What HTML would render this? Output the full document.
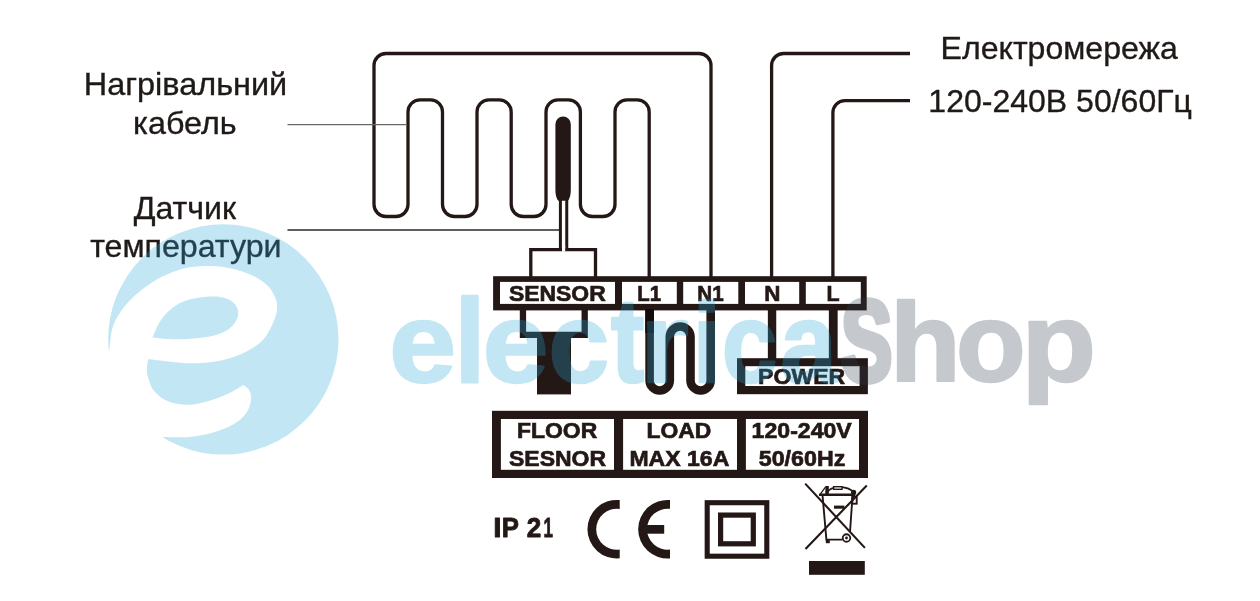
<!DOCTYPE html>
<html lang="uk"><head><meta charset="utf-8"><title>Схема підключення терморегулятора</title>
<style>
html,body{margin:0;padding:0;background:#fff;}
body{width:1260px;height:601px;overflow:hidden;}
svg{display:block;will-change:transform;}
.lbl{font-family:"Liberation Sans",sans-serif;fill:#1f1a17;}
.b{font-family:"Liberation Sans",sans-serif;font-weight:700;fill:#231815;}
.wm{font-family:"Liberation Sans",sans-serif;font-weight:700;}
</style></head><body>
<svg width="1260" height="601" viewBox="0 0 1260 601">
<rect width="1260" height="601" fill="#fff"/>
<path d="M649.2,278 V111.9 A12.0,12.0 0 0 0 637.2,99.9 H627.0 A12.0,12.0 0 0 0 615.0,111.9 V204.5 A12.0,12.0 0 0 1 603.0,216.5 H592.4 A12.0,12.0 0 0 1 580.4,204.5 V111.9 A12.0,12.0 0 0 0 568.4,99.9 H558.0 A12.0,12.0 0 0 0 546.0,111.9 V204.5 A12.0,12.0 0 0 1 534.0,216.5 H523.2 A12.0,12.0 0 0 1 511.2,204.5 V111.9 A12.0,12.0 0 0 0 499.2,99.9 H489.0 A12.0,12.0 0 0 0 477.0,111.9 V204.5 A12.0,12.0 0 0 1 465.0,216.5 H454.5 A12.0,12.0 0 0 1 442.5,204.5 V111.9 A12.0,12.0 0 0 0 430.5,99.9 H420.0 A12.0,12.0 0 0 0 408.0,111.9 V204.5 A12.0,12.0 0 0 1 396.0,216.5 H386.0 A12.0,12.0 0 0 1 374.0,204.5 V65.5 A12.0,12.0 0 0 1 386.0,53.5 H699.0 A12.0,12.0 0 0 1 711.0,65.5 V278" fill="none" stroke="#231815" stroke-width="3.3" stroke-linejoin="round"/>
<path d="M910,53.5 H783.6 A12,12 0 0 0 771.6,65.5 V278" fill="none" stroke="#231815" stroke-width="3.3"/>
<path d="M910,100.6 H844.9 A12,12 0 0 0 832.9,112.6 V278" fill="none" stroke="#231815" stroke-width="3.3"/>
<path d="M287.5,124.6 H406.5" stroke="#6b6765" stroke-width="1.1"/>
<path d="M287.5,229.9 H559.5" stroke="#2e2825" stroke-width="1.5"/>
<path d="M555.4,124.3 a7.7,7.7 0 0 1 15.4,0 V190 q0,7.5 -2.9,10.8 h-9.6 q-2.9,-3.3 -2.9,-10.8 Z" fill="#231815"/>
<path d="M560.4,198 V250 M566.75,198 V250" stroke="#231815" stroke-width="3.0" fill="none"/>
<path d="M530.8,278 V249.7 H595.5 V278" fill="none" stroke="#231815" stroke-width="3.3"/>
<rect x="562.0" y="246" width="3.2" height="5.6" fill="#fff"/>
<rect x="493.1" y="276.2" width="373.6" height="34.2" fill="#231815"/>
<rect x="500.0" y="281.9" width="115.0" height="22.0" fill="#fff"/>
<rect x="622.0" y="281.9" width="54.8" height="22.0" fill="#fff"/>
<rect x="683.2" y="281.9" width="55.1" height="22.0" fill="#fff"/>
<rect x="745.0" y="281.9" width="54.2" height="22.0" fill="#fff"/>
<rect x="805.8" y="281.9" width="55.0" height="22.0" fill="#fff"/>
<path d="M522.95,309 V334.95 H584.7 V309" fill="none" stroke="#231815" stroke-width="6.3"/>
<rect x="537" y="332" width="34" height="62.4" fill="#231815"/>
<path d="M649.6,309 V380.4 a10.1,10.1 0 0 0 20.2,0 V336.85 a10.35,10.35 0 0 1 20.7,0 V380.4 a10.1,10.1 0 0 0 20.2,0 V309" fill="none" stroke="#231815" stroke-width="8.6"/>
<rect x="645.3" y="309" width="8.6" height="24" fill="#120d0c"/>
<path d="M772.05,309 V360" stroke="#231815" stroke-width="8.4" fill="none"/>
<path d="M833.25,309 V360" stroke="#231815" stroke-width="8.8" fill="none"/>
<rect x="737" y="358.2" width="130.9" height="36" fill="#231815"/>
<rect x="745.3" y="366.2" width="114.3" height="19.8" fill="#fff"/>
<rect x="492" y="410.8" width="376" height="67.2" fill="#231815"/>
<rect x="500.9" y="419.0" width="113.1" height="50.8" fill="#fff"/>
<rect x="623.1" y="419.0" width="113.9" height="50.8" fill="#fff"/>
<rect x="745.9" y="419.0" width="113.1" height="50.8" fill="#fff"/>
<text class="b" x="509.00" y="300.65" font-size="22.9" textLength="96.72" lengthAdjust="spacingAndGlyphs" stroke="#231815" stroke-width="0.7">SENSOR</text>
<text class="b" x="637.32" y="300.65" font-size="22.9" textLength="23.77" lengthAdjust="spacingAndGlyphs" stroke="#231815" stroke-width="0.7">L1</text>
<text class="b" x="697.30" y="300.65" font-size="22.9" textLength="26.34" lengthAdjust="spacingAndGlyphs" stroke="#231815" stroke-width="0.7">N1</text>
<text class="b" x="764.18" y="300.65" font-size="22.9" textLength="16.16" lengthAdjust="spacingAndGlyphs" stroke="#231815" stroke-width="0.7">N</text>
<text class="b" x="826.45" y="300.65" font-size="22.9" textLength="13.09" lengthAdjust="spacingAndGlyphs" stroke="#231815" stroke-width="0.7">L</text>
<text class="b" x="758.14" y="383.65" font-size="22.9" textLength="87.00" lengthAdjust="spacingAndGlyphs" stroke="#231815" stroke-width="0.7">POWER</text>
<text class="b" x="517.05" y="438.35" font-size="22.9" textLength="80.21" lengthAdjust="spacingAndGlyphs" stroke="#231815" stroke-width="0.7">FLOOR</text>
<text class="b" x="509.00" y="466.05" font-size="22.9" textLength="97.03" lengthAdjust="spacingAndGlyphs" stroke="#231815" stroke-width="0.7">SESNOR</text>
<text class="b" x="646.45" y="438.35" font-size="22.9" textLength="64.86" lengthAdjust="spacingAndGlyphs" stroke="#231815" stroke-width="0.7">LOAD</text>
<text class="b" x="629.44" y="466.05" font-size="22.9" textLength="99.85" lengthAdjust="spacingAndGlyphs" stroke="#231815" stroke-width="0.7">MAX 16A</text>
<text class="b" x="751.64" y="438.35" font-size="22.9" textLength="100.10" lengthAdjust="spacingAndGlyphs" stroke="#231815" stroke-width="0.7">120-240V</text>
<text class="b" x="758.79" y="466.05" font-size="22.9" textLength="86.54" lengthAdjust="spacingAndGlyphs" stroke="#231815" stroke-width="0.7">50/60Hz</text>
<text class="b" y="537.30" font-size="28.4" fill="#231815" stroke="#231815" stroke-width="0.9" stroke-linejoin="round"><tspan x="493.25" textLength="8.29" lengthAdjust="spacingAndGlyphs">I</tspan><tspan x="501.69" textLength="16.69" lengthAdjust="spacingAndGlyphs">P</tspan> <tspan x="526.83" textLength="14.48" lengthAdjust="spacingAndGlyphs">2</tspan><tspan x="543.61" textLength="9.42" lengthAdjust="spacingAndGlyphs">1</tspan></text>
<path d="M619.70,500.05 A29.30,29.30 0 1 0 619.70,558.35 L619.70,549.48 A20.50,20.50 0 1 1 619.70,508.92 Z" fill="#231815"/>
<path d="M670.00,500.01 A29.30,29.30 0 1 0 670.00,558.39 L670.00,549.55 A20.50,20.50 0 1 1 670.00,508.85 Z" fill="#231815"/>
<rect x="646" y="525" width="18.2" height="8.7" fill="#231815"/>
<rect x="707.2" y="502.7" width="59.6" height="53.5" fill="none" stroke="#231815" stroke-width="5.1"/>
<rect x="720.6" y="515.1" width="32.7" height="28.7" fill="none" stroke="#231815" stroke-width="5.2"/>
<g stroke="#231815" fill="none" stroke-width="1.9">
<path d="M805.2,483.6 L864.9,547.9 M866.8,485.4 L805.5,548.9" stroke-width="2.1"/>
<path d="M822.5,495 L826.4,539.6 H842.5 M852.6,495 L850.0,532"/>
<path d="M819,494.7 H855.2" stroke-width="2.4"/>
<path d="M820.3,494.2 L825.8,486.6" stroke-width="1.3"/>
<path d="M827,493 Q829.5,487.2 838.5,487.1 Q849.5,487.2 853.4,492" stroke-width="1.6"/>
<rect x="833.6" y="486.7" width="8.4" height="2.6" fill="#fff" stroke-width="1.4"/>
<rect x="852.3" y="496.9" width="4.4" height="6.8" stroke-width="1.9"/>
<circle cx="846.5" cy="538" r="3.75" fill="#fff" stroke-width="1.8"/>
</g>
<g fill="#231815">
<path d="M825.5,486.1 h3.3 v8 h-3.6 Z"/>
<circle cx="853.6" cy="492.4" r="2.6"/>
<rect x="834" y="505.6" width="10.4" height="3.1"/>
<rect x="825.8" y="539.2" width="4" height="4"/>
<circle cx="846.5" cy="538" r="1.4"/>
<rect x="809" y="561" width="55.8" height="13.8"/>
</g>
<text class="lbl" x="83.80" y="95.33" font-size="30.9" textLength="203.37" lengthAdjust="spacingAndGlyphs" stroke="#1f1a17" stroke-width="0.35">Нагрівальний</text>
<text class="lbl" x="133.08" y="133.62" font-size="30.9" textLength="103.55" lengthAdjust="spacingAndGlyphs" stroke="#1f1a17" stroke-width="0.35">кабель</text>
<text class="lbl" x="133.67" y="218.57" font-size="30.9" textLength="102.34" lengthAdjust="spacingAndGlyphs" stroke="#1f1a17" stroke-width="0.35">Датчик</text>
<text class="lbl" x="90.15" y="256.93" font-size="30.9" textLength="191.35" lengthAdjust="spacingAndGlyphs" stroke="#1f1a17" stroke-width="0.35">температури</text>
<text class="lbl" x="940.58" y="58.62" font-size="30.9" textLength="237.20" lengthAdjust="spacingAndGlyphs" stroke="#1f1a17" stroke-width="0.35">Електромережа</text>
<text class="lbl" x="928.34" y="112.12" font-size="30.9" textLength="263.54" lengthAdjust="spacingAndGlyphs" stroke="#1f1a17" stroke-width="0.35">120-240В 50/60Гц</text>
<defs><mask id="em" maskUnits="userSpaceOnUse" x="100" y="215" width="250" height="250">
<circle cx="223.3" cy="339.4" r="115.2" fill="#fff"/>
<path d="M109.4,349.6 C109.9,346.0 110.6,334.4 112.5,328.0 C114.4,321.6 117.3,316.7 120.8,311.5 C124.3,306.3 128.1,301.9 133.3,297.0 C138.5,292.1 145.4,286.6 152.0,282.4 C158.6,278.2 165.9,274.6 172.8,272.0 C179.7,269.4 186.3,267.8 193.6,266.8 C200.9,265.8 209.2,265.7 216.5,266.2 C223.8,266.7 230.7,268.2 237.3,270.0 C243.9,271.8 250.8,274.4 256.0,277.2 C261.2,280.0 265.2,283.0 268.5,286.6 C271.8,290.2 274.4,295.4 275.8,299.0 C277.2,302.6 277.2,305.1 277.2,308.0 C277.1,310.9 276.8,312.9 275.5,316.6 C274.2,320.3 272.1,325.9 269.7,330.0 C267.3,334.1 265.3,337.9 261.4,341.5 C257.5,345.1 251.7,348.7 246.4,351.5 C241.1,354.3 235.9,356.4 229.8,358.2 C223.7,360.0 216.7,361.5 209.8,362.3 C202.9,363.1 195.1,363.3 188.2,363.2 C181.3,363.1 175.0,362.2 168.3,361.5 C161.7,360.8 151.6,359.4 148.3,359.0  C148.1,360.3 147.1,364.1 147.0,367.0 C146.9,369.9 146.6,372.6 147.8,376.6 C149.0,380.6 150.5,386.9 154.0,391.0 C157.5,395.1 162.7,399.2 168.6,401.5 C174.5,403.8 182.5,404.9 189.4,404.7 C196.3,404.5 203.6,402.4 210.2,400.5 C216.8,398.6 223.4,395.8 229.0,393.2 C234.6,390.6 241.1,386.4 243.5,385.0  C244.5,386.0 248.5,388.2 249.7,391.0 C250.9,393.8 251.5,397.7 250.8,401.5 C250.1,405.3 248.6,410.2 245.6,414.0 C242.6,417.8 238.6,421.3 233.1,424.4 C227.6,427.5 219.6,430.6 212.3,432.7 C205.0,434.8 197.7,436.2 189.4,436.9 C181.1,437.6 166.9,436.9 162.4,436.9 L120,470 L80,420 L80,350 Z" fill="#000"/>
<path d="M152.5,337.4 C153.8,334.8 157.1,326.2 160.0,321.6 C162.9,317.0 166.1,313.3 170.0,310.0 C173.9,306.7 178.2,303.7 183.2,301.6 C188.2,299.5 194.3,298.3 199.9,297.5 C205.5,296.7 211.5,296.2 216.5,296.6 C221.5,297.0 226.5,298.3 229.8,300.0 C233.1,301.7 235.1,304.1 236.5,306.6 C237.9,309.1 238.5,312.1 238.1,315.0 C237.7,317.9 236.2,321.2 234.0,324.0 C231.8,326.8 228.8,329.5 224.8,331.6 C220.8,333.7 215.9,335.4 209.8,336.6 C203.7,337.8 195.1,338.6 188.2,339.0 C181.3,339.4 174.2,339.3 168.3,339.0 C162.4,338.7 155.1,337.7 152.5,337.4Z" fill="#fff"/>
</mask></defs>
<g opacity="0.285">
<rect x="100" y="215" width="250" height="250" fill="#2ca7dc" mask="url(#em)"/>
<text class="wm" y="381.50" font-size="114" fill="#2ca7dc" stroke="#2ca7dc" stroke-width="2.4" stroke-linejoin="round"><tspan x="389.35" textLength="66.86" lengthAdjust="spacingAndGlyphs">e</tspan><tspan x="454.60" font-size="119" textLength="30.86" lengthAdjust="spacingAndGlyphs">l</tspan><tspan x="482.74" textLength="65.71" lengthAdjust="spacingAndGlyphs">e</tspan><tspan x="548.39" textLength="60.66" lengthAdjust="spacingAndGlyphs">c</tspan><tspan x="610.74" font-size="120" textLength="33.60" lengthAdjust="spacingAndGlyphs">t</tspan><tspan x="639.99" textLength="48.59" lengthAdjust="spacingAndGlyphs">r</tspan><tspan x="692.42" textLength="28.83" lengthAdjust="spacingAndGlyphs">i</tspan><tspan x="721.64" textLength="55.75" lengthAdjust="spacingAndGlyphs">c</tspan><tspan x="780.51" textLength="56.44" lengthAdjust="spacingAndGlyphs">a</tspan></text>
<text class="wm" y="381.10" font-size="112" fill="#343e50" stroke="#343e50" stroke-width="2.4" stroke-linejoin="round"><tspan x="840.64" font-size="115" stroke-width="6.0" textLength="51.78" lengthAdjust="spacingAndGlyphs">S</tspan><tspan x="890.10" textLength="70.65" lengthAdjust="spacingAndGlyphs">h</tspan><tspan x="955.92" textLength="69.57" lengthAdjust="spacingAndGlyphs">o</tspan><tspan x="1021.44" textLength="74.44" lengthAdjust="spacingAndGlyphs">p</tspan></text>
</g>
</svg></body></html>
